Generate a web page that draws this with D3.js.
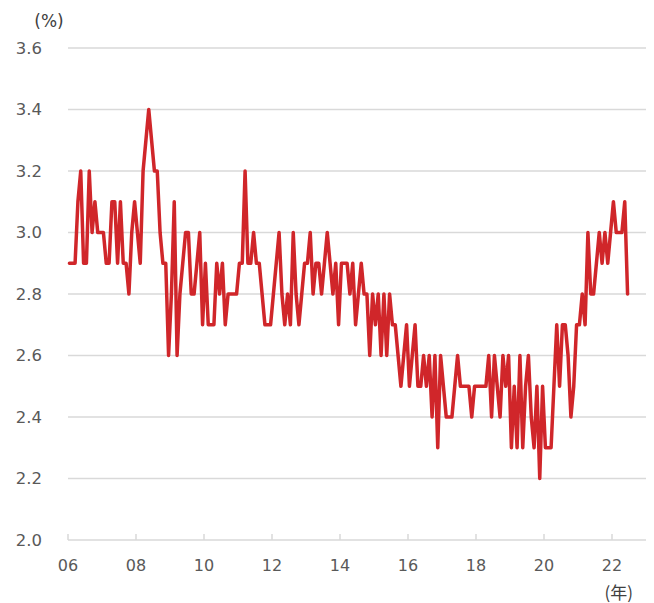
<!DOCTYPE html>
<html>
<head>
  <meta charset="utf-8">
  <title>Monthly rate 2006-2022</title>
  <script src="https://d3js.org/d3.v7.min.js"></script>
  <style type="text/css">
    body { margin: 0; background: #fff; }
    svg { display: block; font-family: "DejaVu Sans", Verdana, sans-serif; }
  </style>
</head>
<body>
  <svg id="chart" width="654" height="603"></svg>
  <script type="text/javascript">
    // monthly values, Jan 2006 .. Jun 2022 (%)
    const startYear = 2006;
    const values = [
      2.9, 2.9, 2.9, 3.1, 3.2, 2.9, 2.9, 3.2, 3.0, 3.1, 3.0, 3.0, // 2006
      3.0, 2.9, 2.9, 3.1, 3.1, 2.9, 3.1, 2.9, 2.9, 2.8, 3.0, 3.1, // 2007
      3.0, 2.9, 3.2, 3.3, 3.4, 3.3, 3.2, 3.2, 3.0, 2.9, 2.9, 2.6, // 2008
      2.8, 3.1, 2.6, 2.8, 2.9, 3.0, 3.0, 2.8, 2.8, 2.9, 3.0, 2.7, // 2009
      2.9, 2.7, 2.7, 2.7, 2.9, 2.8, 2.9, 2.7, 2.8, 2.8, 2.8, 2.8, // 2010
      2.9, 2.9, 3.2, 2.9, 2.9, 3.0, 2.9, 2.9, 2.8, 2.7, 2.7, 2.7, // 2011
      2.8, 2.9, 3.0, 2.8, 2.7, 2.8, 2.7, 3.0, 2.8, 2.7, 2.8, 2.9, // 2012
      2.9, 3.0, 2.8, 2.9, 2.9, 2.8, 2.9, 3.0, 2.9, 2.8, 2.9, 2.7, // 2013
      2.9, 2.9, 2.9, 2.8, 2.9, 2.7, 2.8, 2.9, 2.8, 2.8, 2.6, 2.8, // 2014
      2.7, 2.8, 2.6, 2.8, 2.6, 2.8, 2.7, 2.7, 2.6, 2.5, 2.6, 2.7, // 2015
      2.5, 2.6, 2.7, 2.5, 2.5, 2.6, 2.5, 2.6, 2.4, 2.6, 2.3, 2.6, // 2016
      2.5, 2.4, 2.4, 2.4, 2.5, 2.6, 2.5, 2.5, 2.5, 2.5, 2.4, 2.5, // 2017
      2.5, 2.5, 2.5, 2.5, 2.6, 2.4, 2.6, 2.5, 2.4, 2.6, 2.5, 2.6, // 2018
      2.3, 2.5, 2.3, 2.6, 2.3, 2.5, 2.6, 2.4, 2.3, 2.5, 2.2, 2.5, // 2019
      2.3, 2.3, 2.3, 2.5, 2.7, 2.5, 2.7, 2.7, 2.6, 2.4, 2.5, 2.7, // 2020
      2.7, 2.8, 2.7, 3.0, 2.8, 2.8, 2.9, 3.0, 2.9, 3.0, 2.9, 3.0, // 2021
      3.1, 3.0, 3.0, 3.0, 3.1, 2.8                                // 2022
    ];
    const yTicks = [2.0, 2.2, 2.4, 2.6, 2.8, 3.0, 3.2, 3.4, 3.6];
    const xTicks = [2006, 2008, 2010, 2012, 2014, 2016, 2018, 2020, 2022];

    const svg = d3.select("#chart");

    const x = d3.scaleLinear().domain([2006, 2023]).range([68, 646]);
    const y = d3.scaleLinear().domain([2.0, 3.6]).range([540, 48]);

    // horizontal grid lines
    svg.append("g")
      .selectAll("line")
      .data(yTicks)
      .join("line")
        .attr("x1", x(2006))
        .attr("x2", x(2023))
        .attr("y1", d => y(d))
        .attr("y2", d => y(d))
        .attr("stroke", "#d9d9d9")
        .attr("stroke-width", 1.5);

    // y labels
    svg.append("g")
      .selectAll("text")
      .data(yTicks)
      .join("text")
        .attr("x", 42)
        .attr("y", d => y(d))
        .attr("dy", "0.36em")
        .attr("text-anchor", "end")
        .attr("fill", "#595959")
        .style("font-size", "16.5px")
        .text(d => d.toFixed(1));

    // little ticks on the baseline
    svg.append("g")
      .selectAll("line")
      .data(xTicks)
      .join("line")
        .attr("x1", d => x(d))
        .attr("x2", d => x(d))
        .attr("y1", y(2.0))
        .attr("y2", y(2.0) - 6)
        .attr("stroke", "#d9d9d9")
        .attr("stroke-width", 1.5);

    // x labels
    svg.append("g")
      .selectAll("text")
      .data(xTicks)
      .join("text")
        .attr("x", d => x(d))
        .attr("y", 571)
        .attr("text-anchor", "middle")
        .attr("fill", "#595959")
        .style("font-size", "16px")
        .text(d => String(d % 100).padStart(2, "0"));

    // units
    svg.append("text")
      .attr("x", 49).attr("y", 27)
      .attr("text-anchor", "middle")
      .attr("fill", "#404040")
      .style("font-size", "17px")
      .text("(%)");

    svg.append("text")
      .attr("x", 633).attr("y", 599)
      .attr("text-anchor", "end")
      .attr("fill", "#404040")
      .style("font-family", "'Noto Sans CJK JP', sans-serif")
      .style("font-size", "17px")
      .text("(年)");

    // the series, each month sits in the middle of its slot
    const line = d3.line()
      .x((d, i) => x(startYear + (i + 0.5) / 12))
      .y(d => y(d));

    svg.append("path")
      .datum(values)
      .attr("fill", "none")
      .attr("stroke", "#d0262a")
      .attr("stroke-width", 3.5)
      .attr("stroke-linejoin", "round")
      .attr("stroke-linecap", "round")
      .attr("d", line);
  </script>
</body>
</html>
